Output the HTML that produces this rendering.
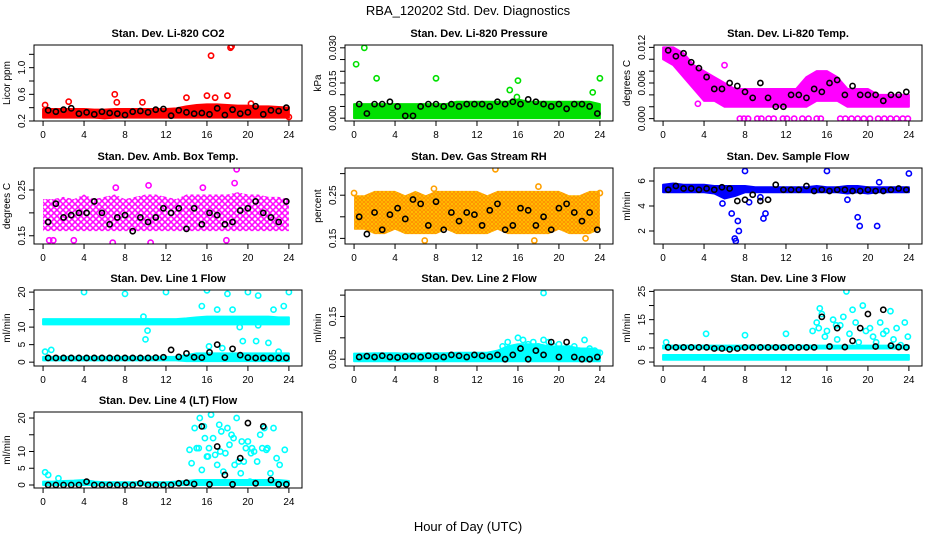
<!DOCTYPE html>
<html><head><meta charset="utf-8"><style>
body{margin:0;background:#fff}
svg{display:block;font-family:"Liberation Sans",sans-serif}
</style></head><body>
<svg id="c" width="936" height="540" viewBox="0 0 936 540">
<defs>
<pattern id="pat-mag" width="6" height="6" patternUnits="userSpaceOnUse"><rect width="6" height="6" fill="#fff"/><circle cx="3" cy="3" r="2.3" fill="none" stroke="#ff00ff" stroke-width="1.5"/></pattern>
<pattern id="pat-org" width="4" height="4" patternUnits="userSpaceOnUse"><rect width="4" height="4" fill="#ffd000"/><circle cx="2" cy="2" r="1.4" fill="none" stroke="#ff8800" stroke-width="1"/></pattern>
</defs>
<text x="468" y="15" text-anchor="middle" font-size="13">RBA_120202  Std. Dev. Diagnostics</text>
<text x="468" y="531" text-anchor="middle" font-size="13">Hour of Day (UTC)</text>
</svg>
<script>
const bandHours=[0,1,2,3,4,5,6,7,8,9,10,11,12,13,14,15,16,17,18,19,20,21,22,23,24];
const blackHours=[0.5,1.25,2,2.75,3.5,4.25,5,5.75,6.5,7.25,8,8.75,9.5,10.25,11,11.75,12.5,13.25,14,14.75,15.5,16.25,17,17.75,18.5,19.25,20,20.75,21.5,22.25,23,23.75];
const xTicks=[0,4,8,12,16,20,24];

const co2Lo=[0.25,0.25,0.25,0.25,0.25,0.25,0.24,0.25,0.25,0.25,0.25,0.25,0.25,0.25,0.25,0.25,0.25,0.25,0.25,0.25,0.25,0.25,0.25,0.25,0.25];
const co2Hi=[0.38,0.38,0.38,0.38,0.38,0.37,0.37,0.38,0.38,0.38,0.38,0.38,0.38,0.39,0.42,0.44,0.45,0.45,0.44,0.43,0.43,0.42,0.42,0.41,0.40];
const co2Black=[0.36,0.34,0.37,0.39,0.31,0.33,0.30,0.34,0.32,0.31,0.29,0.34,0.35,0.33,0.37,0.38,0.28,0.36,0.33,0.31,0.32,0.30,0.39,0.29,0.37,0.31,0.33,0.42,0.30,0.36,0.35,0.40];
const co2OutX=[0.2,2.5,7,7.2,9.7,14,16,16.4,16.8,18,18.3,18.4,20.3,24];
const co2OutY=[0.44,0.49,0.6,0.48,0.48,0.55,0.58,1.18,0.55,0.58,1.30,1.32,0.46,0.26];
const prLo=[0,0,0,0,0,0,0,0,0,0,0,0,0,0,0,0,0,0,0,0,0,0,0,0,0];
const prHi=[0.006,0.006,0.006,0.006,0.006,0.006,0.006,0.006,0.006,0.006,0.007,0.007,0.007,0.007,0.007,0.007,0.008,0.007,0.007,0.007,0.007,0.007,0.007,0.007,0.006];
const prBlack=[0.006,0.002,0.006,0.006,0.007,0.005,0.001,0.001,0.005,0.006,0.006,0.005,0.006,0.005,0.006,0.006,0.006,0.005,0.007,0.006,0.007,0.006,0.008,0.007,0.006,0.005,0.006,0.004,0.006,0.006,0.005,0.002];
const prOutX=[0.2,1,2.2,8,15.2,16,23.3,24,15.9];
const prOutY=[0.023,0.030,0.017,0.017,0.012,0.016,0.011,0.017,0.009];
const tLo=[0.010,0.009,0.007,0.005,0.003,0.003,0.002,0.002,0.002,0.002,0.002,0.002,0.002,0.002,0.002,0.003,0.003,0.003,0.002,0.002,0.002,0.002,0.002,0.002,0.002];
const tHi=[0.012,0.012,0.011,0.009,0.008,0.007,0.006,0.005,0.005,0.005,0.005,0.005,0.005,0.005,0.007,0.008,0.008,0.007,0.005,0.005,0.005,0.004,0.004,0.004,0.004];
const tBlack=[0.0115,0.0105,0.011,0.0095,0.0085,0.007,0.005,0.005,0.006,0.0055,0.0045,0.0035,0.006,0.0035,0.002,0.002,0.004,0.004,0.0035,0.005,0.0045,0.006,0.0065,0.004,0.0055,0.004,0.004,0.004,0.003,0.004,0.004,0.0045];
const tOutX=[7.5,7.9,8.3,9.2,9.6,10.3,10.8,11.7,12.1,12.8,13.6,14.2,15,15.4,17.3,17.8,18.4,19,19.6,20.2,21,21.6,22.2,22.8,23.4,23.9,6,3.4];
const tOutY=[0,0,0,0,0,0,0,0,0,0,0,0,0,0,0,0,0,0,0,0,0,0,0,0,0,0,0.009,0.0025];
const aLo=[0.16,0.16,0.16,0.16,0.16,0.16,0.16,0.16,0.16,0.16,0.16,0.16,0.16,0.16,0.16,0.16,0.16,0.16,0.16,0.16,0.16,0.16,0.16,0.16,0.16];
const aHi=[0.23,0.23,0.235,0.23,0.24,0.23,0.235,0.24,0.23,0.235,0.24,0.24,0.235,0.23,0.24,0.24,0.24,0.24,0.24,0.245,0.24,0.24,0.235,0.235,0.23];
const aBlack=[0.18,0.22,0.19,0.195,0.2,0.2,0.225,0.2,0.175,0.19,0.195,0.16,0.19,0.18,0.19,0.21,0.2,0.21,0.165,0.21,0.175,0.2,0.195,0.175,0.18,0.205,0.21,0.225,0.2,0.19,0.18,0.225];
const aOutX=[0.6,1,6.8,10.5,10.3,18.9,18.7,15.6,7.1,3,17.9];
const aOutY=[0.14,0.14,0.135,0.135,0.26,0.295,0.265,0.255,0.255,0.14,0.14];
const rhLo=[0.17,0.17,0.16,0.16,0.17,0.16,0.16,0.16,0.16,0.17,0.16,0.16,0.16,0.16,0.17,0.16,0.16,0.16,0.16,0.16,0.17,0.16,0.16,0.16,0.17];
const rhHi=[0.25,0.25,0.26,0.26,0.26,0.25,0.26,0.25,0.26,0.26,0.26,0.26,0.26,0.25,0.26,0.26,0.26,0.26,0.26,0.26,0.26,0.25,0.25,0.26,0.26];
const rhBlack=[0.2,0.16,0.21,0.17,0.205,0.22,0.195,0.24,0.23,0.18,0.235,0.17,0.21,0.19,0.21,0.205,0.18,0.215,0.23,0.17,0.18,0.22,0.215,0.18,0.2,0.17,0.22,0.23,0.21,0.19,0.21,0.17];
const rhOutX=[13.8,18,7.8,0,24,6.9,17.6,22.6];
const rhOutY=[0.31,0.27,0.265,0.255,0.255,0.145,0.145,0.15];
const sfLo=[5.1,5.1,5.1,5.1,5.1,5.0,4.6,4.8,5.1,5.1,5.1,5.1,5.1,5.1,5.1,5.1,5.1,5.1,5.0,5.1,5.0,5.1,5.1,5.1,5.1];
const sfHi=[5.7,5.8,5.7,5.7,5.7,5.6,5.6,5.6,5.6,5.5,5.5,5.5,5.5,5.5,5.5,5.6,5.5,5.5,5.6,5.6,5.5,5.5,5.5,5.5,5.5];
const sfBlack=[5.3,5.6,5.4,5.4,5.3,5.4,5.3,5.5,5.4,4.4,4.5,4.9,4.4,4.5,5.7,5.3,5.3,5.3,5.6,5.2,5.3,5.2,5.3,5.3,5.2,5.2,5.3,5.2,5.2,5.3,5.4,5.3];
const sfOutX=[6.7,7,7.1,7.3,7.4,8,9.8,10,16,19,19.2,20.9,24,5.8,8.4,21.1,18,9.5];
const sfOutY=[3.4,1.4,1.2,2.8,2.0,6.8,3.0,3.4,6.8,3.1,2.4,2.4,6.6,4.2,4.3,5.9,4.5,4.7];
const l1Lo=[10.8,10.8,10.8,10.8,10.8,10.8,10.8,10.8,10.8,10.8,10.8,10.8,10.8,10.8,10.8,10.8,10.8,10.8,10.8,10.8,10.8,10.8,10.8,10.8,10.8];
const l1Hi=[12.3,12.3,12.3,12.3,12.3,12.3,12.3,12.3,12.3,12.3,12.3,12.3,12.3,12.3,12.5,12.8,13,13,13,13,13,13,13,12.8,12.8];
const l1Lo2=[0.5,0.5,0.5,0.5,0.5,0.5,0.5,0.5,0.5,0.5,0.5,0.5,0.5,0.5,0.3,0.3,0.3,0.3,0.3,0.3,0.3,0.3,0.3,0.3,0.3];
const l1Hi2=[1.5,1.5,1.5,1.5,1.5,1.5,1.5,1.5,1.5,1.5,1.5,1.5,1.5,1.5,2,2.5,2.5,2.5,2.5,2.5,2.5,2.5,2.5,2.5,2.5];
const l1Black=[1.2,1.2,1.2,1.2,1.2,1.2,1.2,1.2,1.2,1.2,1.2,1.2,1.2,1.2,1.3,1.4,3.5,1.5,2.5,1.4,1.3,2.8,5,1.3,3.8,2,1.3,1.2,1.2,1.2,1.2,1.2];
const l1OutX=[4,8,12,16,18,20,21,24,10,10.2,9.8,0.2,0.8,15.5,17,18.5,19.2,21,22.5,23.5,16.2,17.5,19.5,20.8,22,23];
const l1OutY=[20,19.5,20,20.5,19.5,20,19,20,6.5,9,13,3,3.5,16,15,15,10,10.5,15,16,4.5,4,6,6,5.5,3];
const l2Lo=[0.045,0.045,0.045,0.045,0.045,0.045,0.045,0.045,0.045,0.045,0.045,0.045,0.045,0.045,0.045,0.045,0.045,0.045,0.045,0.045,0.045,0.045,0.045,0.045,0.045];
const l2Hi=[0.063,0.063,0.064,0.064,0.064,0.063,0.063,0.064,0.064,0.064,0.065,0.065,0.065,0.065,0.07,0.08,0.085,0.085,0.085,0.08,0.08,0.08,0.075,0.075,0.07];
const l2Black=[0.055,0.057,0.055,0.058,0.055,0.054,0.056,0.057,0.055,0.058,0.056,0.055,0.06,0.058,0.055,0.06,0.058,0.056,0.06,0.05,0.06,0.075,0.05,0.07,0.06,0.09,0.055,0.09,0.055,0.05,0.05,0.055];
const l2OutX=[14.5,15,15.5,16,16.5,17,17.5,18,18.5,19,19.5,20,20.5,21,21.5,22,22.5,23,23.5,24,18.5];
const l2OutY=[0.08,0.09,0.075,0.1,0.095,0.085,0.09,0.08,0.095,0.09,0.08,0.085,0.07,0.075,0.08,0.07,0.095,0.075,0.07,0.065,0.205];
const l3Lo=[0.8,0.8,0.8,0.8,0.8,0.8,0.8,0.8,0.8,0.8,0.8,0.8,0.8,0.8,0.8,0.8,0.8,0.8,0.8,0.8,0.8,0.8,0.8,0.8,0.8];
const l3Hi=[2.5,2.5,2.5,2.5,2.5,2.5,2.5,2.5,2.5,2.5,2.5,2.5,2.5,2.5,2.5,2.5,2.5,2.5,2.5,2.5,2.5,2.5,2.5,2.5,2.5];
const l3Lo2=[4.8,4.8,4.8,4.8,4.8,4.5,4.3,4.5,4.8,4.8,4.8,4.8,4.8,4.8,4.8,4.8,4.8,4.8,4.8,4.8,4.8,4.8,4.8,4.8,4.8];
const l3Hi2=[5.8,5.8,5.8,5.8,5.8,5.8,5.8,5.8,5.8,5.8,5.8,5.8,5.8,5.8,5.8,5.8,5.8,5.8,5.8,5.8,5.8,5.8,5.8,5.8,5.8];
const l3Black=[5.2,5.2,5.2,5.2,5.2,5.2,4.8,4.8,4.5,4.8,5.2,5.2,5.2,5.2,5.2,5.2,5.2,5.2,5.2,5.2,16,5.5,12,5.3,7.5,12,17,5.5,18.5,5.8,5.3,5.2];
const l3OutX=[14.6,15,15.3,15.5,15.8,16,16.3,16.6,17,17.3,17.6,17.9,18.2,18.5,18.8,19.1,19.5,19.8,20.2,20.5,20.8,21.2,21.5,21.8,22.2,22.5,22.8,23.2,23.6,23.9,0.3,4.2,8,12,15.2,16.9];
const l3OutY=[11,14,19,17,9,11,5.5,15,8,13,16,25,10,18.5,14,7,20,11,12,9,7,14,10,11,18,8,12,6,14,9,7,10,9.5,10,12,13];
const l4Lo=[0,0,0,0,0,0,0,0,0,0,0,0,0,0,0,0,0,0,0,0,0,0,0,0,0];
const l4Hi=[1,1,1.2,1.3,1.5,1,0.8,0.8,0.8,0.8,0.8,0.8,0.8,1,1.2,1.5,1.5,1.5,1.5,1.5,1.5,1.5,1.5,1.5,1.2];
const l4Black=[0,0,0,0,0,1,0,0,0,0,0,0,0.5,0,0,0,0,0.5,0.7,0.3,17.5,0.2,11.5,3,0.2,8,18.5,0.5,17.5,1.5,0.2,0.2];
const l4OutX=[14.5,14.8,15,15.3,15.5,15.7,16,16.2,16.4,16.6,16.8,17,17.2,17.4,17.6,17.8,18,18.2,18.4,18.7,18.9,19.1,19.3,19.6,19.8,20,20.3,20.6,20.9,21.2,21.4,21.6,21.9,22.2,22.5,22.8,23.1,23.6,14.3,15.2,16.1,17.3,18.6,19.4,20.4,21.8,0.2,0.5,1.5,15.8,20.2];
const l4OutY=[6.5,17,11,20,4.5,17.5,8.5,11,21,14,9,6,18,16,4,9.5,17,12,15,6,20,7,3.5,7,11,13,9.5,10,7,15,11,17,11,3.5,17,8,6,10.5,10.5,11,8.5,10,14,13,11,10.5,3.8,3,2,14,1];

const panels=[
 {name:'co2',title:'Stan. Dev. Li-820 CO2',ylab:'Licor ppm',col:0,row:0,ylo:0.2,yhi:1.34,ticks:[0.2,0.4,0.6,0.8,1.0,1.2],labels:['0.2','','0.6','','1.0',''],color:'#ff0000',bands:[[co2Lo,co2Hi]],black:co2Black,ox:co2OutX,oy:co2OutY},
 {name:'pressure',title:'Stan. Dev. Li-820 Pressure',ylab:'kPa',col:1,row:0,ylo:-0.0012,yhi:0.0312,ticks:[0,0.005,0.010,0.015,0.020,0.025,0.030],labels:['0.000','','','0.015','','','0.030'],color:'#00e000',bands:[[prLo,prHi]],black:prBlack,ox:prOutX,oy:prOutY},
 {name:'li820-temp',title:'Stan. Dev. Li-820 Temp.',ylab:'degrees C',col:2,row:0,ylo:-0.0004,yhi:0.0124,ticks:[0,0.002,0.004,0.006,0.008,0.010,0.012],labels:['0.000','','','0.006','','','0.012'],color:'#ff00ff',bands:[[tLo,tHi]],black:tBlack,ox:tOutX,oy:tOutY},
 {name:'amb-box-temp',title:'Stan. Dev. Amb. Box Temp.',ylab:'degrees C',col:0,row:1,ylo:0.132,yhi:0.298,ticks:[0.15,0.20,0.25],labels:['0.15','','0.25'],color:'#ff00ff',fill:'url(#pat-mag)',bands:[[aLo,aHi]],black:aBlack,ox:aOutX,oy:aOutY},
 {name:'gas-rh',title:'Stan. Dev. Gas Stream RH',ylab:'percent',col:1,row:1,ylo:0.137,yhi:0.313,ticks:[0.15,0.20,0.25,0.30],labels:['0.15','','0.25',''],color:'#ffa000',fill:'url(#pat-org)',bands:[[rhLo,rhHi]],black:rhBlack,ox:rhOutX,oy:rhOutY},
 {name:'sample-flow',title:'Stan. Dev. Sample Flow',ylab:'ml/min',col:2,row:1,ylo:0.96,yhi:7.04,ticks:[2,4,6],labels:['2','4','6'],color:'#0000ff',bands:[[sfLo,sfHi]],black:sfBlack,ox:sfOutX,oy:sfOutY},
 {name:'line1-flow',title:'Stan. Dev. Line 1 Flow',ylab:'ml/min',col:0,row:2,ylo:-1.1,yhi:20.6,ticks:[0,5,10,15,20],labels:['0','5','10','','20'],color:'#00ffff',bands:[[l1Lo,l1Hi],[l1Lo2,l1Hi2]],black:l1Black,ox:l1OutX,oy:l1OutY},
 {name:'line2-flow',title:'Stan. Dev. Line 2 Flow',ylab:'ml/min',col:1,row:2,ylo:0.034,yhi:0.212,ticks:[0.05,0.10,0.15,0.20],labels:['0.05','','0.15',''],color:'#00ffff',bands:[[l2Lo,l2Hi]],black:l2Black,ox:l2OutX,oy:l2OutY},
 {name:'line3-flow',title:'Stan. Dev. Line 3 Flow',ylab:'ml/min',col:2,row:2,ylo:-1.4,yhi:25.5,ticks:[0,5,10,15,20,25],labels:['0','5','','15','','25'],color:'#00ffff',bands:[[l3Lo,l3Hi],[l3Lo2,l3Hi2]],black:l3Black,ox:l3OutX,oy:l3OutY},
 {name:'line4-flow',title:'Stan. Dev. Line 4 (LT) Flow',ylab:'ml/min',col:0,row:3,ylo:-0.9,yhi:21.8,ticks:[0,5,10,15,20],labels:['0','5','10','','20'],color:'#00ffff',bands:[[l4Lo,l4Hi]],black:l4Black,ox:l4OutX,oy:l4OutY}
];
const colX=[34,345,654], rowY=[45,168,290,412], PW=268, PH=76, XLO=-0.885, XHI=25.28;
const NS='http://www.w3.org/2000/svg';
const svg=document.getElementById('c');
function mk(tag,attrs,parent){const e=document.createElementNS(NS,tag);for(const k in attrs)e.setAttribute(k,attrs[k]);(parent||svg).appendChild(e);return e;}
panels.forEach(p=>{
 const x0=colX[p.col], y0=rowY[p.row];
 const g=mk('g',{});
 
 
 const xs=v=>x0+(v-XLO)/(XHI-XLO)*PW;
 const ys=v=>y0+PH-(v-p.ylo)/(p.yhi-p.ylo)*PH;
 const clip=mk('clipPath',{id:'cl'+p.name},g);
 mk('rect',{x:x0,y:y0,width:PW,height:PH},clip);
 const plot=mk('g',{'clip-path':'url(#cl'+p.name+')'},g);
 p.bands.forEach(b=>{
  const lo=b[0],hi=b[1];
  let pts=bandHours.map((h,i)=>xs(h)+','+ys(hi[i]));
  pts=pts.concat(bandHours.slice().reverse().map((h,j)=>xs(h)+','+ys(lo[bandHours.length-1-j])));
  const poly=mk('polygon',{points:pts.join(' '),fill:p.fill||p.color,stroke:p.fill?'none':p.color,'stroke-width':2,'stroke-linejoin':'round'},plot);
  
  
 });
 p.ox.forEach((x,i)=>{
  const c=mk('circle',{cx:xs(x),cy:ys(p.oy[i]),r:2.6,fill:'none',stroke:p.color,'stroke-width':1.6},plot);
  
  
 });
 p.black.forEach((v,i)=>{
  const c=mk('circle',{cx:xs(blackHours[i]),cy:ys(v),r:2.6,fill:'none',stroke:'#000','stroke-width':1.6},plot);
  
  
 });
 const box=mk('rect',{x:x0,y:y0,width:PW,height:PH,fill:'none',stroke:'#000','stroke-width':1},g);
 
 
 const t=mk('text',{x:x0+PW/2,y:y0-8,'text-anchor':'middle','font-size':11,'font-weight':'bold'},g);
 t.textContent=p.title;
 
 
 xTicks.forEach(v=>{
  mk('line',{x1:xs(v),x2:xs(v),y1:y0+PH,y2:y0+PH+5,stroke:'#000'},g);
  const l=mk('text',{x:xs(v),y:y0+PH+17,'text-anchor':'middle','font-size':10},g);
  l.textContent=v;
  
  
 });
 p.ticks.forEach((v,i)=>{
  const y=ys(v);
  mk('line',{x1:x0,x2:x0-5,y1:y,y2:y,stroke:'#000'},g);
  if(p.labels[i]){
   const l=mk('text',{x:x0-9,y:y,'text-anchor':'middle','font-size':10,transform:'rotate(-90 '+(x0-9)+' '+y+')'},g);
   l.textContent=p.labels[i];
   
   
  }
 });
 const yl=mk('text',{x:x0-24,y:y0+PH/2,'text-anchor':'middle','font-size':10,transform:'rotate(-90 '+(x0-24)+' '+(y0+PH/2)+')'},g);
 yl.textContent=p.ylab;
 
 
});
</script>
</body></html>
